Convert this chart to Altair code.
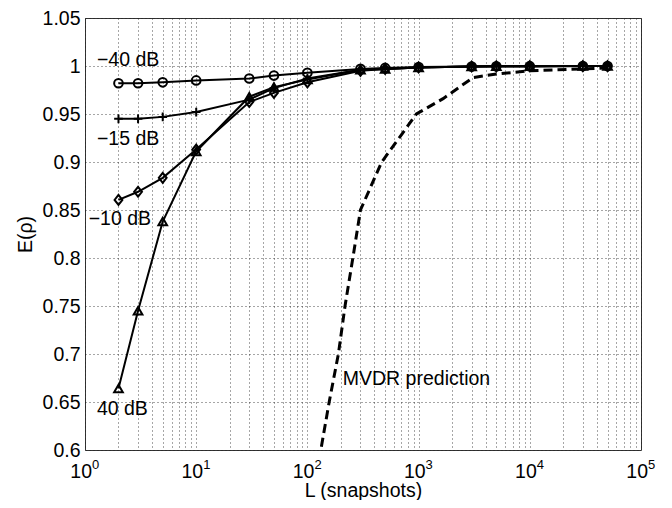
import altair as alt
import pandas as pd

# ---- data ----
L = [2, 3, 5, 10, 30, 50, 100, 300, 500, 1000, 3000, 5000, 10000, 30000, 50000]
E_m40 = [0.982, 0.982, 0.983, 0.985, 0.987, 0.990, 0.993, 0.997, 0.998, 0.999, 0.9995, 0.9997, 0.9998, 0.9999, 0.9999]
E_m15 = [0.945, 0.945, 0.947, 0.952, 0.965, 0.977, 0.987, 0.996, 0.997, 0.9985, 0.9995, 0.9997, 0.9998, 0.9999, 0.9999]
E_m10 = [0.8605, 0.869, 0.8835, 0.913, 0.9625, 0.972, 0.983, 0.995, 0.997, 0.9985, 0.9995, 0.9997, 0.9998, 0.9999, 0.9999]
E_40 = [0.664, 0.745, 0.838, 0.911, 0.968, 0.978, 0.986, 0.996, 0.997, 0.9985, 0.9995, 0.9997, 0.9998, 0.9999, 0.9999]

MVDR_L = [120, 132, 157, 190, 218, 263, 300, 466, 955, 1660, 3090, 5000, 10000, 30000, 50000]
MVDR_E = [0.56, 0.60, 0.65, 0.70, 0.75, 0.808, 0.85, 0.90, 0.95, 0.966, 0.988, 0.9916, 0.995, 0.997, 0.998]

series_names = ["−40 dB", "−15 dB", "−10 dB", "40 dB"]
series_values = [E_m40, E_m15, E_m10, E_40]
series_shapes = [
    "circle",
    "M-1,0L1,0M0,-1L0,1",
    "M0,-1.15L0.9,0L0,1.15L-0.9,0Z",
    "triangle-up",
]

label_text = ["−40 dB", "−15 dB", "−10 dB", "40 dB", "MVDR prediction"]
label_L = [1.28, 1.28, 1.08, 1.28, 208]
label_E = [1.006, 0.924, 0.841, 0.643, 0.674]

x_pow_vals = [1, 10, 100, 1000, 10000, 100000]
x_pow_base = ["10", "10", "10", "10", "10", "10"]
x_pow_exp = ["0", "1", "2", "3", "4", "5"]
x_grid = [m * 10 ** k for k in range(5) for m in range(1, 10)] + [100000]
y_ticks = [0.6, 0.65, 0.7, 0.75, 0.8, 0.85, 0.9, 0.95, 1.0, 1.05]

# ---- tables ----
rows = []
for name, vals in zip(series_names, series_values):
    for l, e in zip(L, vals):
        rows.append({"L": l, "E": e, "series": name})
df = pd.DataFrame(rows)
mvdr = pd.DataFrame({"L": MVDR_L, "E": MVDR_E})
labels = pd.DataFrame({"L": label_L, "E": label_E, "text": label_text})
xticks = pd.DataFrame({"L": x_pow_vals, "base": x_pow_base, "exp": x_pow_exp})

FONT = "Liberation Sans"
FS = 19.5
H = 432

x_enc = alt.X(
    "L:Q",
    scale=alt.Scale(type="log", domain=[1, 100000], nice=False),
    axis=alt.Axis(
        title="L (snapshots)",
        values=x_grid,
        labels=False,
        titleY=46,
        titleBaseline="alphabetic",
    ),
)
y_enc = alt.Y(
    "E:Q",
    scale=alt.Scale(domain=[0.6, 1.05], nice=False, zero=False),
    axis=alt.Axis(
        title="E(ρ)",
        values=y_ticks,
        format=".2~f",
        labelPadding=5,
        titlePadding=7,
    ),
)

lines = alt.Chart(df).mark_line(color="black", strokeWidth=2, clip=True).encode(
    x=x_enc, y=y_enc, detail="series:N"
)
points = alt.Chart(df).mark_point(
    color="black", strokeWidth=2, size=75, filled=False, opacity=1, clip=True
).encode(
    x="L:Q",
    y="E:Q",
    shape=alt.Shape(
        "series:N",
        scale=alt.Scale(domain=series_names, range=series_shapes),
        legend=None,
    ),
)
mvdr_line = alt.Chart(mvdr).mark_line(
    color="black", strokeWidth=3, strokeDash=[9, 5], clip=True
).encode(x="L:Q", y="E:Q")
texts = alt.Chart(labels).mark_text(
    align="left", baseline="middle", fontSize=FS, font=FONT, color="black"
).encode(x="L:Q", y="E:Q", text="text:N")

tick_base = alt.Chart(xticks).mark_text(
    align="right", baseline="alphabetic", dx=7, fontSize=FS, font=FONT, color="black"
).encode(x="L:Q", y=alt.value(H + 28), text="base:N")
tick_exp = alt.Chart(xticks).mark_text(
    align="left", baseline="alphabetic", dx=7, fontSize=13, font=FONT, color="black"
).encode(x="L:Q", y=alt.value(H + 19), text="exp:N")

chart = (
    alt.layer(mvdr_line, lines, points, texts, tick_base, tick_exp)
    .properties(
        width=556,
        height=H,
        autosize="none",
        padding={"left": 77, "top": 10, "right": 23, "bottom": 50},
        background="white",
    )
    .configure_view(stroke="#333", strokeWidth=1)
    .configure_axis(
        grid=True,
        gridColor="#222",
        gridDash=[1, 3],
        gridWidth=1,
        gridOpacity=0.8,
        domain=False,
        ticks=False,
        labelFont=FONT,
        labelFontSize=FS,
        labelColor="black",
        titleFont=FONT,
        titleFontSize=FS,
        titleFontWeight="normal",
        titleColor="black",
    )
)

chart.save("out.html", embed_options={"renderer": "svg", "actions": False})
